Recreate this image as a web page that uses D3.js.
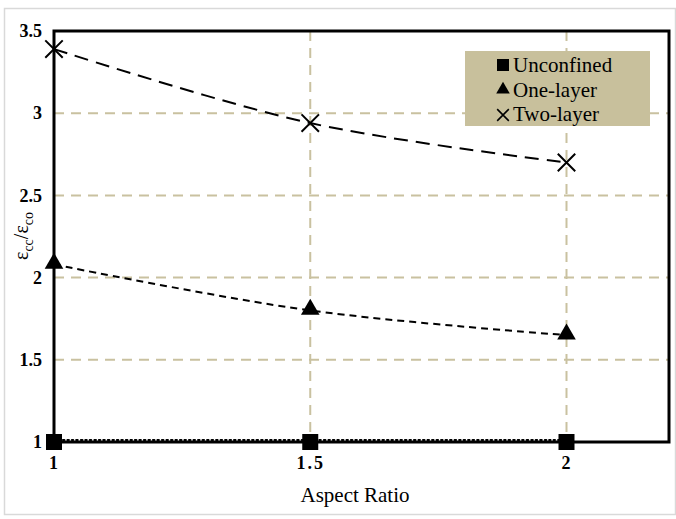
<!DOCTYPE html>
<html>
<head>
<meta charset="utf-8">
<script src="https://cdn.jsdelivr.net/npm/d3@7"></script>
<style>
  html, body { margin: 0; padding: 0; background: #fff; }
  svg { display: block; }
</style>
</head>
<body>
<svg id="chart" width="676" height="519"></svg>
<script>
// Strain ratio versus aspect ratio for confined specimens
const aspectRatios = [1, 1.5, 2];
const unconfined = [1, 1, 1];
const oneLayer = [2.08, 1.80, 1.65];
const twoLayer = [3.39, 2.94, 2.70];
const xTicks = [1, 1.5, 2];
const xTickLabels = ["1", "1.5", "2"];
const yTicks = [1, 1.5, 2, 2.5, 3, 3.5];
const yTickLabels = ["1", "1.5", "2", "2.5", "3", "3.5"];
const legendNames = ["Unconfined", "One-layer", "Two-layer"];

const svg = d3.select("#chart");
const W = 676, H = 519;
const margin = { left: 54, right: 7, top: 31, bottom: 77 };
const plotW = W - margin.left - margin.right;
const plotH = H - margin.top - margin.bottom;

const grid = "#c9c1a0";
const serif = "'Liberation Serif', 'Times New Roman', serif";

// outer frame
svg.append("rect").attr("x", 4.5).attr("y", 8.5).attr("width", 671).attr("height", 506)
  .attr("fill", "#fff").attr("stroke", "#d9d9d9").attr("stroke-width", 1.5);

const x = d3.scaleLinear().domain([1, 2.2]).range([0, plotW]);
const y = d3.scaleLinear().domain([1, 3.5]).range([plotH, 0]);

const g = svg.append("g").attr("transform", `translate(${margin.left},${margin.top})`);

// gridlines
g.append("g").selectAll("line").data(yTicks.filter(v => v > 1 && v < 3.5)).join("line")
  .attr("x1", 0).attr("x2", plotW).attr("y1", d => y(d)).attr("y2", d => y(d))
  .attr("stroke", grid).attr("stroke-width", 2).attr("stroke-dasharray", "10,7");
g.append("g").selectAll("line").data(xTicks.filter(v => v > 1)).join("line")
  .attr("y1", 0).attr("y2", plotH).attr("x1", d => x(d)).attr("x2", d => x(d))
  .attr("stroke", grid).attr("stroke-width", 2).attr("stroke-dasharray", "10,7");

// plot frame
g.append("rect").attr("x", 0).attr("y", 0).attr("width", plotW).attr("height", plotH)
  .attr("fill", "none").attr("stroke", "#000").attr("stroke-width", 3);

// axes (labels only)
const xAxis = d3.axisBottom(x).tickValues(xTicks).tickSize(0).tickPadding(14)
  .tickFormat((d, i) => xTickLabels[i]);
const gx = g.append("g").attr("transform", `translate(0,${plotH})`).call(xAxis);
gx.select(".domain").remove();
gx.selectAll("text").attr("font-family", serif).attr("font-size", 18)
  .attr("font-weight", "bold").attr("fill", "#000").attr("letter-spacing", "2px");

const yAxis = d3.axisLeft(y).tickValues(yTicks).tickSize(0).tickPadding(12)
  .tickFormat((d, i) => yTickLabels[i]);
const gy = g.append("g").call(yAxis);
gy.select(".domain").remove();
gy.selectAll("text").attr("font-family", serif).attr("font-size", 18)
  .attr("font-weight", "bold").attr("fill", "#000");

// series lines
const line = d3.line().x(d => x(d[0])).y(d => y(d[1])).curve(d3.curveCatmullRom.alpha(0.5));
const pts = arr => aspectRatios.map((a, i) => [a, arr[i]]);

g.append("path").datum(pts(unconfined)).attr("d", line).attr("fill", "none")
  .attr("stroke", "#000").attr("stroke-width", 2).attr("stroke-dasharray", "1.5,3")
  .attr("stroke-linecap", "round").attr("transform", "translate(0,-2)");
g.append("path").datum(pts(oneLayer)).attr("d", line).attr("fill", "none")
  .attr("stroke", "#000").attr("stroke-width", 2).attr("stroke-dasharray", "7,5");
g.append("path").datum(pts(twoLayer)).attr("d", line).attr("fill", "none")
  .attr("stroke", "#000").attr("stroke-width", 2).attr("stroke-dasharray", "14,8");

// markers
g.append("g").selectAll("rect").data(pts(unconfined)).join("rect")
  .attr("x", d => x(d[0]) - 8).attr("y", d => y(d[1]) - 8)
  .attr("width", 16).attr("height", 16).attr("fill", "#000");
const tri = d3.symbol().type(d3.symbolTriangle).size(150);
g.append("g").selectAll("path").data(pts(oneLayer)).join("path")
  .attr("d", tri).attr("transform", d => `translate(${x(d[0])},${y(d[1]) - 1})`).attr("fill", "#000");
g.append("g").selectAll("path").data(pts(twoLayer)).join("path")
  .attr("d", d3.symbol().type(d3.symbolX).size(200))
  .attr("transform", d => `translate(${x(d[0])},${y(d[1])})`)
  .attr("fill", "none").attr("stroke", "#000").attr("stroke-width", 2);

// legend
const lg = svg.append("g").attr("transform", "translate(465,51)");
lg.append("rect").attr("width", 185).attr("height", 75).attr("fill", "#c8c09c");
const rows = lg.selectAll("g").data(legendNames).join("g")
  .attr("transform", (d, i) => `translate(0,${14 + i * 24.5})`);
rows.append("text").attr("x", 48).attr("y", 7).text(d => d)
  .attr("font-family", serif).attr("font-size", 21).attr("fill", "#000");
rows.filter((d, i) => i === 0).append("rect").attr("x", 32).attr("y", -6).attr("width", 12).attr("height", 12).attr("fill", "#000");
rows.filter((d, i) => i === 1).append("path").attr("d", d3.symbol().type(d3.symbolTriangle).size(80))
  .attr("transform", "translate(38,0)").attr("fill", "#000");
rows.filter((d, i) => i === 2).append("path").attr("d", d3.symbol().type(d3.symbolX).size(90))
  .attr("transform", "translate(38,1)").attr("fill", "none").attr("stroke", "#000").attr("stroke-width", 1.6);

// axis titles
svg.append("text").attr("x", 355).attr("y", 502)
  .attr("text-anchor", "middle").attr("font-family", serif).attr("font-size", 21).text("Aspect Ratio");

const yt = svg.append("text").attr("transform", `translate(28,236) rotate(-90)`)
  .attr("text-anchor", "middle").attr("font-family", serif).attr("font-size", 20);
yt.append("tspan").text("ε");
yt.append("tspan").attr("font-size", 14).attr("dy", 5).text("cc");
yt.append("tspan").attr("dy", -5).text("/ε");
yt.append("tspan").attr("font-size", 14).attr("dy", 5).text("co");
</script>
</body>
</html>
